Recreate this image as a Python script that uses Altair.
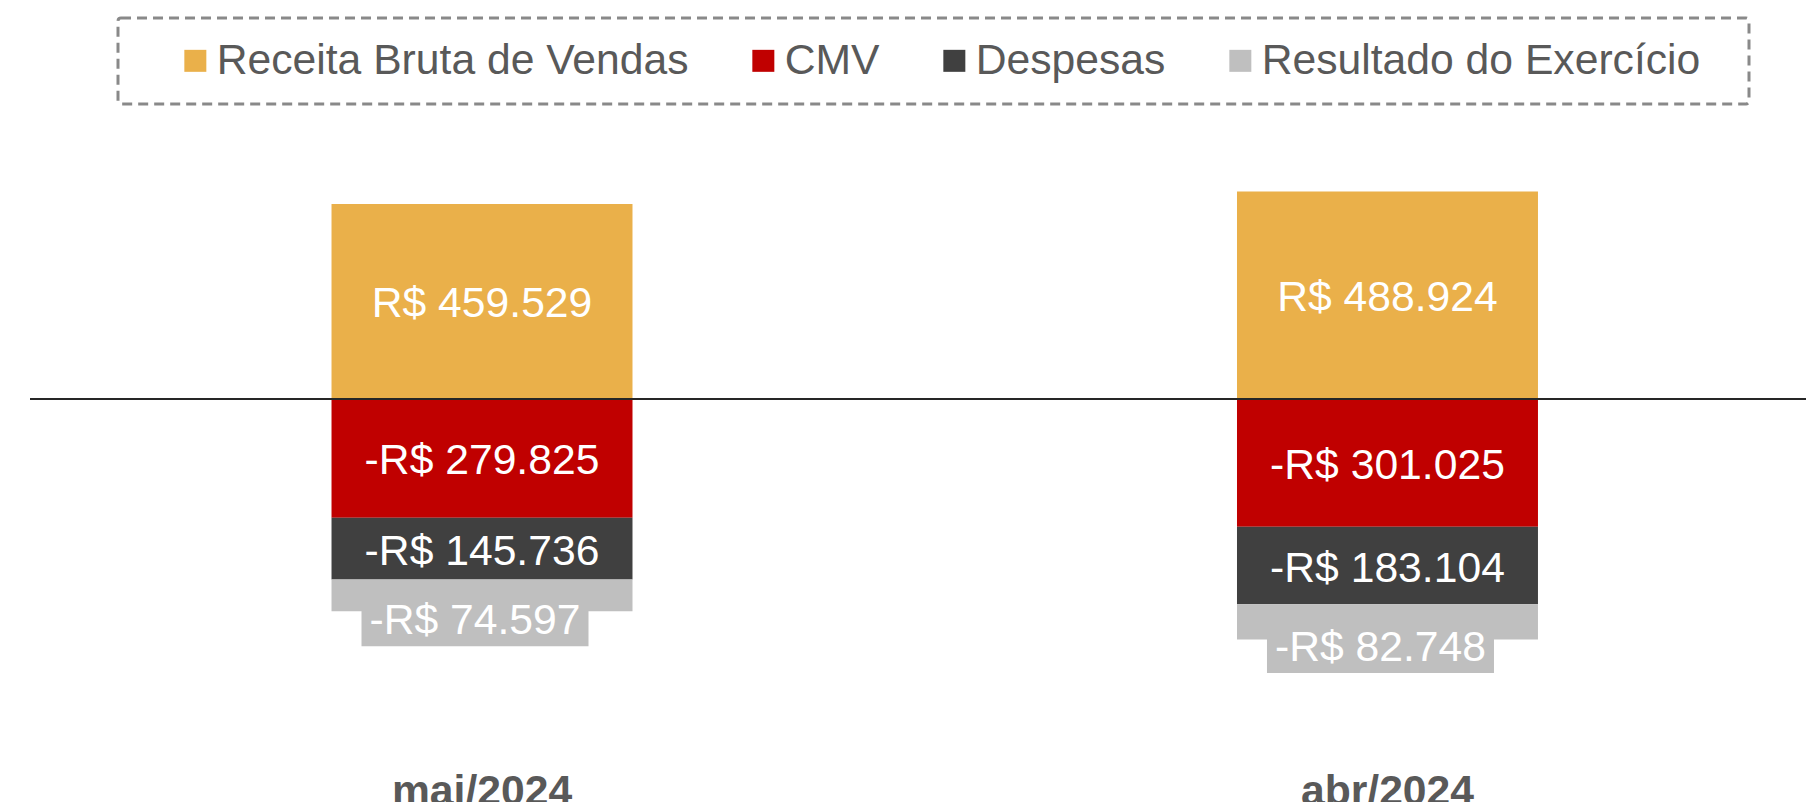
import altair as alt
import pandas as pd

meses = ["mai/2024", "abr/2024"]
series = ["Receita Bruta de Vendas", "CMV", "Despesas", "Resultado do Exercício"]
receita = [459529, 488924]
cmv = [-279825, -301025]
despesas = [-145736, -183104]
resultado = [-74597, -82748]
cores = ["#EAB04A", "#C00000", "#404040", "#BFBFBF"]

rows = []
for i, m in enumerate(meses):
    for j, (s, vals) in enumerate(zip(series, [receita, cmv, despesas, resultado])):
        rows.append({"mes": m, "serie": s, "ordem": j, "valor": vals[i]})
df = pd.DataFrame(rows)

FONT = "Liberation Sans"
FS = 42.67

base = alt.Chart(df).transform_stack(
    stack="valor", groupby=["mes"], as_=["y0", "y1"],
    sort=[alt.SortField("ordem", order="ascending")]
).transform_calculate(
    mid="(datum.y0 + datum.y1) / 2",
    rotulo="(datum.valor < 0 ? '-' : '') + 'R$ ' + replace(format(abs(datum.valor), ','), ',', '.')"
)

xenc = alt.X(
    "mes:N", sort=meses, title=None,
    scale=alt.Scale(paddingInner=0.6676, paddingOuter=0.3145, align=0.5294),
    axis=alt.Axis(labelFont=FONT, labelFontSize=FS, labelFontWeight="bold",
                  labelColor="#595959", domain=False, ticks=False, tickSize=0,
                  labelPadding=151, labelBaseline="alphabetic", labelAngle=0,
                  labelLimit=600, grid=False),
)
yscale = alt.Scale(domain=[-600000, 700000], nice=False, zero=False)

bars = base.mark_bar().encode(
    x=xenc,
    y=alt.Y("y1:Q", scale=yscale, axis=None),
    y2="y0:Q",
    color=alt.Color(
        "serie:N", sort=series,
        scale=alt.Scale(domain=series, range=cores),
        legend=alt.Legend(
            orient="none", legendX=88, legendY=-84, direction="horizontal",
            title="\u00a0", titleOrient="right", titleFontSize=FS, titlePadding=28,
            symbolType="square", symbolSize=484, symbolStrokeWidth=0,
            labelFont=FONT, labelFontSize=FS, labelColor="#595959",
            labelOffset=0, columnPadding=18, labelLimit=1000,
        ),
    ),
)

zero = base.mark_rule(color="#262626", strokeWidth=2).encode(y=alt.datum(0))

box_path = "M-1,-0.229L1,-0.229L1,0.229L-1,0.229Z"
boxes = base.transform_filter(alt.datum.serie == "Resultado do Exercício").mark_point(
    shape=box_path, filled=True, size=51529, color="#BFBFBF", opacity=1,
    strokeWidth=0, xOffset=-7, yOffset=25,
).encode(x=alt.X("mes:N", sort=meses), y=alt.Y("mid:Q"))

labels_main = base.transform_filter(alt.datum.serie != "Resultado do Exercício").mark_text(
    font=FONT, fontSize=FS, color="#FFFFFF", baseline="middle", align="center", dy=3,
).encode(x=alt.X("mes:N", sort=meses), y=alt.Y("mid:Q"), text="rotulo:N")

labels_res = base.transform_filter(alt.datum.serie == "Resultado do Exercício").mark_text(
    font=FONT, fontSize=FS, color="#FFFFFF", baseline="middle", align="center",
    dx=-7, dy=26,
).encode(x=alt.X("mes:N", sort=meses), y=alt.Y("mid:Q"), text="rotulo:N")

chart = alt.layer(bars, zero, boxes, labels_main, labels_res).properties(
    width=1776, height=551.5,
    autosize=alt.AutoSizeParams(type="none"),
    padding={"left": 30, "top": 102, "right": 0, "bottom": 148},
).configure_view(stroke=None).configure_legend(
    strokeColor="#898989", strokeDash=[10, 6], strokeWidth=3,
    cornerRadius=3, padding=21, symbolOffset=35,
)

chart.save("out.html", embed_options={"renderer": "svg", "actions": False})
